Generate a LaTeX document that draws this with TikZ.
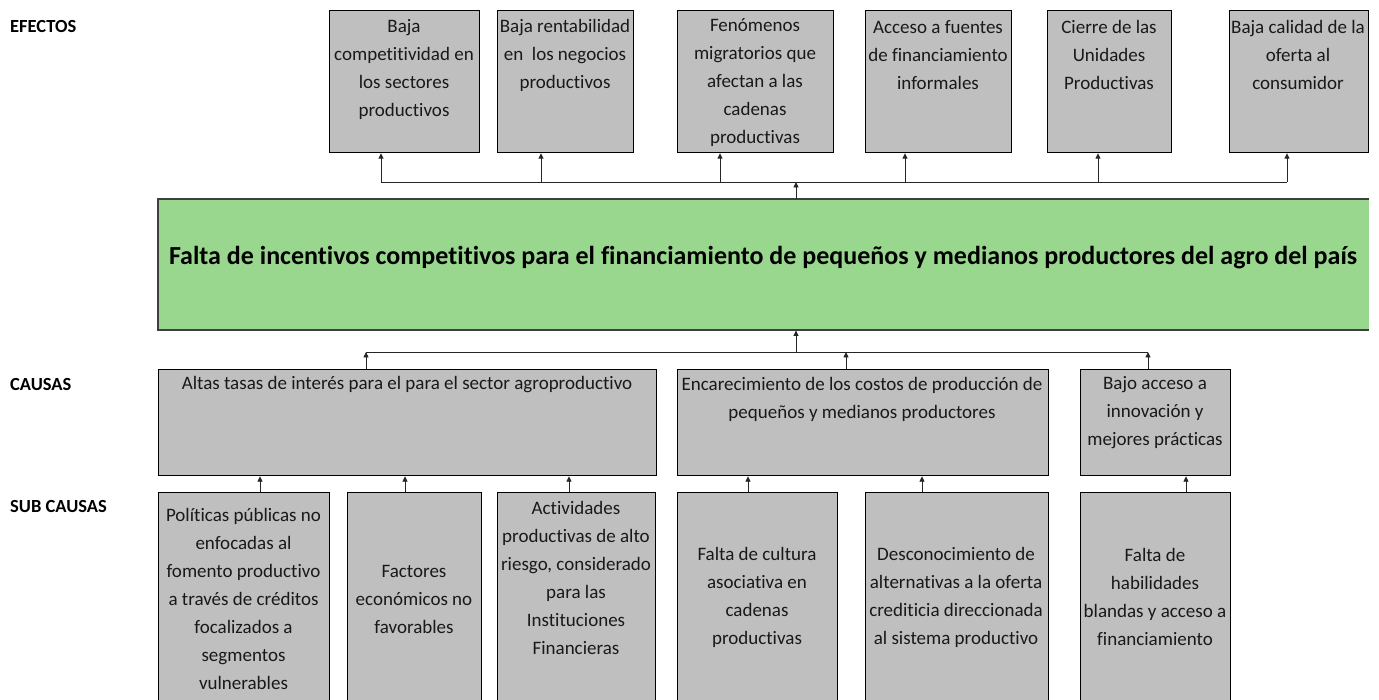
\documentclass[tikz,border=0pt]{standalone}
\usepackage{fontspec}
\setmainfont[Ligatures={NoCommon}]{Carlito}
\usetikzlibrary{arrows.meta}
\definecolor{boxgray}{HTML}{BFBFBF}
\definecolor{probgreen}{HTML}{9AD78E}
\definecolor{edgegray}{HTML}{3F3F3F}
\begin{document}
\begin{tikzpicture}[x=1pt,y=-1pt,
  box/.style={draw=black, line width=1.2pt, fill=boxgray, inner sep=0pt, anchor=north west},
  txt/.style={align=center, inner sep=0pt, font=\fontsize{19}{28}\selectfont, text=black!90},
  lbl/.style={anchor=west, inner sep=0pt, font=\fontsize{18.5}{22}\selectfont\bfseries},
  arr/.style={-{Triangle[width=5pt,length=5.5pt]}, line width=0.9pt, draw=black!85},
  bus/.style={line width=0.9pt, draw=black!85},
  probedge/.style={draw=edgegray, line width=1.8pt}]
\useasboundingbox (0,0) rectangle (1379,700);
\clip (0,0) rectangle (1379,700);
% labels
\node[lbl] (lefe) at (10,27) {EFECTOS};
\node[lbl] (lcau) at (10,385) {CAUSAS};
\node[lbl] (lsub) at (10,507) {SUB CAUSAS};
% effects
\node[box, minimum width=150pt, minimum height=142pt] (e1) at (329,10) {};
\node[box, minimum width=136pt, minimum height=142pt] (e2) at (497,10) {};
\node[box, minimum width=156pt, minimum height=142pt] (e3) at (677,10) {};
\node[box, minimum width=146pt, minimum height=142pt] (e4) at (865,10) {};
\node[box, minimum width=124pt, minimum height=142pt] (e5) at (1047,10) {};
\node[box, minimum width=139pt, minimum height=142pt] (e6) at (1229,10) {};
\node[txt] (e1t) at (404,69) {Baja\\competitividad en\\los sectores\\productivos};
\node[txt] (e2t) at (565,55) {Baja rentabilidad\\en\ \ los negocios\\productivos};
\node[txt] (e3t) at (755,83) {Fenómenos\\migratorios que\\afectan a las\\cadenas\\productivas};
\node[txt] (e4t) at (938,55) {Acceso a fuentes\\de financiamiento\\informales};
\node[txt] (e5t) at (1109,55) {Cierre de las\\Unidades\\Productivas};
\node[txt] (e6t) at (1298,55) {Baja calidad de la\\oferta al\\consumidor};
% problem
\node[fill=probgreen, draw=none, inner sep=0pt, anchor=north west, minimum width=1211pt, minimum height=131pt] (prob) at (158,199) {};
\draw[probedge] (prob.north east) -- (prob.north west) -- (prob.south west) -- (prob.south east);
\node[inner sep=0pt, font=\fontsize{26}{30}\selectfont\bfseries] (probt) at (763,258) {Falta de incentivos competitivos para el financiamiento de pequeños y medianos productores del agro del país};
% causes
\node[box, minimum width=498pt, minimum height=106pt] (c1) at (158,369) {};
\node[box, minimum width=371pt, minimum height=106pt] (c2) at (677,369) {};
\node[box, minimum width=150pt, minimum height=106pt] (c3) at (1080,369) {};
\node[txt] (c1t) at (407,385) {Altas tasas de interés para el para el sector agroproductivo};
\node[txt] (c2t) at (862,399) {Encarecimiento de los costos de producción de\\pequeños y medianos productores};
\node[txt] (c3t) at (1155,413) {Bajo acceso a\\innovación y\\mejores prácticas};
% sub causes
\node[box, minimum width=171pt, minimum height=230pt] (s1) at (158,492) {};
\node[box, minimum width=134pt, minimum height=230pt] (s2) at (347,492) {};
\node[box, minimum width=158pt, minimum height=230pt] (s3) at (497,492) {};
\node[box, minimum width=160pt, minimum height=230pt] (s4) at (677,492) {};
\node[box, minimum width=183pt, minimum height=230pt] (s5) at (865,492) {};
\node[box, minimum width=150pt, minimum height=230pt] (s6) at (1080,492) {};
\node[txt] (s1t) at (243.5,599) {Políticas públicas no\\enfocadas al\\fomento productivo\\a través de créditos\\focalizados a\\segmentos\\vulnerables};
\node[txt] (s2t) at (414,599) {Factores\\económicos no\\favorables};
\node[txt] (s3t) at (576,578) {Actividades\\productivas de alto\\riesgo, considerado\\para las\\Instituciones\\Financieras};
\node[txt] (s4t) at (757,597) {Falta de cultura\\asociativa en\\cadenas\\productivas};
\node[txt] (s5t) at (956,597) {Desconocimiento de\\alternativas a la oferta\\crediticia direccionada\\al sistema productivo};
\node[txt] (s6t) at (1155,597) {Falta de\\habilidades\\blandas y acceso a\\financiamiento};
% top bus
\coordinate (tb1) at (381,182);
\coordinate (tb2) at (541,182);
\coordinate (tb3) at (720,182);
\coordinate (tb4) at (905,182);
\coordinate (tb5) at (1098,182);
\coordinate (tb6) at (1287,182);
\coordinate (tbm) at (796,182);
\draw[bus] (tb1) -- (tb6);
\draw[arr] (prob.north -| tbm) -- (tbm);
\foreach \i in {1,...,6} \draw[arr] (tb\i) -- (e\i.south -| tb\i);
% bottom bus
\coordinate (bb1) at (366,352);
\coordinate (bb2) at (846,352);
\coordinate (bb3) at (1148,352);
\coordinate (bbm) at (796,352);
\draw[bus] (bb1) -- (bb3);
\draw[arr] (bbm) -- (prob.south -| bbm);
\foreach \i in {1,2,3} \draw[arr] (c\i.north -| bb\i) -- (bb\i);
% sub cause arrows
\draw[arr] (s1.north -| 260,0) -- (c1.south -| 260,0);
\draw[arr] (s2.north -| 405,0) -- (c1.south -| 405,0);
\draw[arr] (s3.north -| 569,0) -- (c1.south -| 569,0);
\draw[arr] (s4.north -| 748,0) -- (c2.south -| 748,0);
\draw[arr] (s5.north -| 922,0) -- (c2.south -| 922,0);
\draw[arr] (s6.north -| 1186,0) -- (c3.south -| 1186,0);
\end{tikzpicture}
\end{document}
